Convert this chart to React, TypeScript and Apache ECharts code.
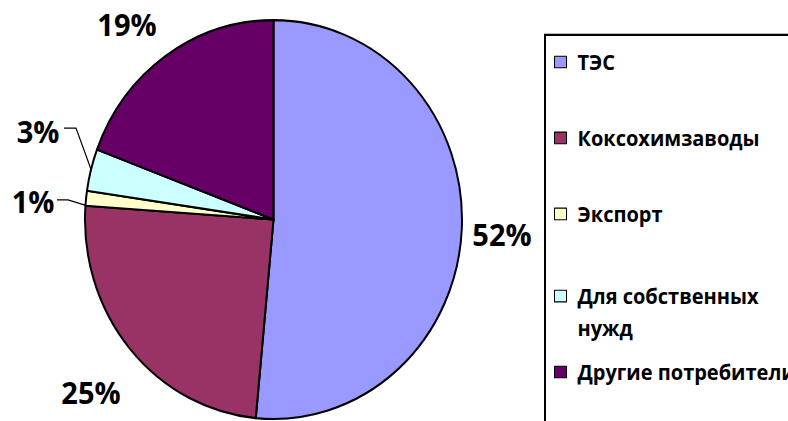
import React, { useEffect, useRef } from 'react';
import * as echarts from 'echarts';

// Data
const categories = ['ТЭС', 'Коксохимзаводы', 'Экспорт', 'Для собственных нужд', 'Другие потребители'];
const shares = [51.5, 24.6, 1.2, 3.4, 19.3];
const colors = ['#9999FF', '#993366', '#FFFFCC', '#CCFFFF', '#660066'];
const withLeader = [false, false, true, true, false];

// The reference picture is slightly stretched vertically
const SCALE_Y = 1.058;
const W = 788;
const H = Math.round(421 / SCALE_Y);

// Label placements (chart coordinates)
const labelSpots: { x: number; y: number; line?: number[][] }[] = [
  { x: 502, y: 221 },
  { x: 91, y: 370.5 },
  { x: 33, y: 190, line: [[85, 193.8], [68, 189], [57, 189]] },
  { x: 38, y: 124, line: [[92, 162.6], [76, 121], [64, 121]] },
  { x: 127, y: 22.7 },
];

// Legend icon centres (chart coordinates)
const legendCenters = [58.6, 130.4, 202.2, 279.8, 351.6];

export default function App() {
  const ref = useRef<HTMLDivElement>(null);
  useEffect(() => {
    const chart = echarts.init(ref.current!, null, { renderer: 'svg' });
    const font = 'Open Sans';
    const legends = categories.map((name, i) => {
      const twoLine = name === 'Для собственных нужд';
      return {
        data: [name],
        orient: 'vertical',
        left: 554,
        top: twoLine ? legendCenters[i] - 45 : legendCenters[i] - 15,
        padding: 0,
        icon: 'rect',
        itemWidth: 12,
        itemHeight: 11,
        selectedMode: false,
        itemStyle: { borderColor: '#000', borderWidth: 1 },
        formatter: (n: string) => (n === 'Для собственных нужд' ? '\nДля собственных\nнужд' : n),
        textStyle: {
          fontFamily: font,
          fontWeight: 'bold',
          fontSize: 20,
          lineHeight: 30,
          color: '#000',
          padding: [0, 0, 0, 6],
        },
      };
    });
    chart.setOption({
      animation: false,
      backgroundColor: '#fff',
      legend: legends,
      graphic: [
        {
          type: 'rect',
          shape: { x: 545, y: 33, width: 400, height: 500 },
          style: { fill: 'none', stroke: '#000', lineWidth: 2 },
          z: 0,
        },
      ],
      series: [
        {
          type: 'pie',
          center: [273.5, 207.5],
          radius: 188.5,
          startAngle: 90,
          clockwise: true,
          avoidLabelOverlap: false,
          percentPrecision: 0,
          itemStyle: { borderColor: '#000', borderWidth: 2 },
          label: {
            show: true,
            position: 'outside',
            formatter: '{d}%',
            fontFamily: font,
            fontWeight: 'bold',
            fontSize: 29,
            color: '#000',
          },
          labelLine: { show: false, lineStyle: { color: '#000', width: 1.2 } },
          labelLayout: (params: any) => {
            const s = labelSpots[params.dataIndex];
            const o: any = { x: s.x, y: s.y, align: 'center', verticalAlign: 'middle' };
            if (s.line) o.labelLinePoints = s.line;
            return o;
          },
          emphasis: { disabled: true },
          data: categories.map((name, i) => ({
            name,
            value: shares[i],
            itemStyle: { color: colors[i] },
            labelLine: { show: withLeader[i], length: 10, length2: 10 },
          })),
        },
      ],
    });
    return () => chart.dispose();
  }, []);
  return (
    <div
      ref={ref}
      style={{
        position: 'fixed',
        left: 0,
        top: 0,
        width: W,
        height: H,
        transform: `scaleY(${SCALE_Y})`,
        transformOrigin: '0 0',
        background: '#fff',
      }}
    />
  );
}
